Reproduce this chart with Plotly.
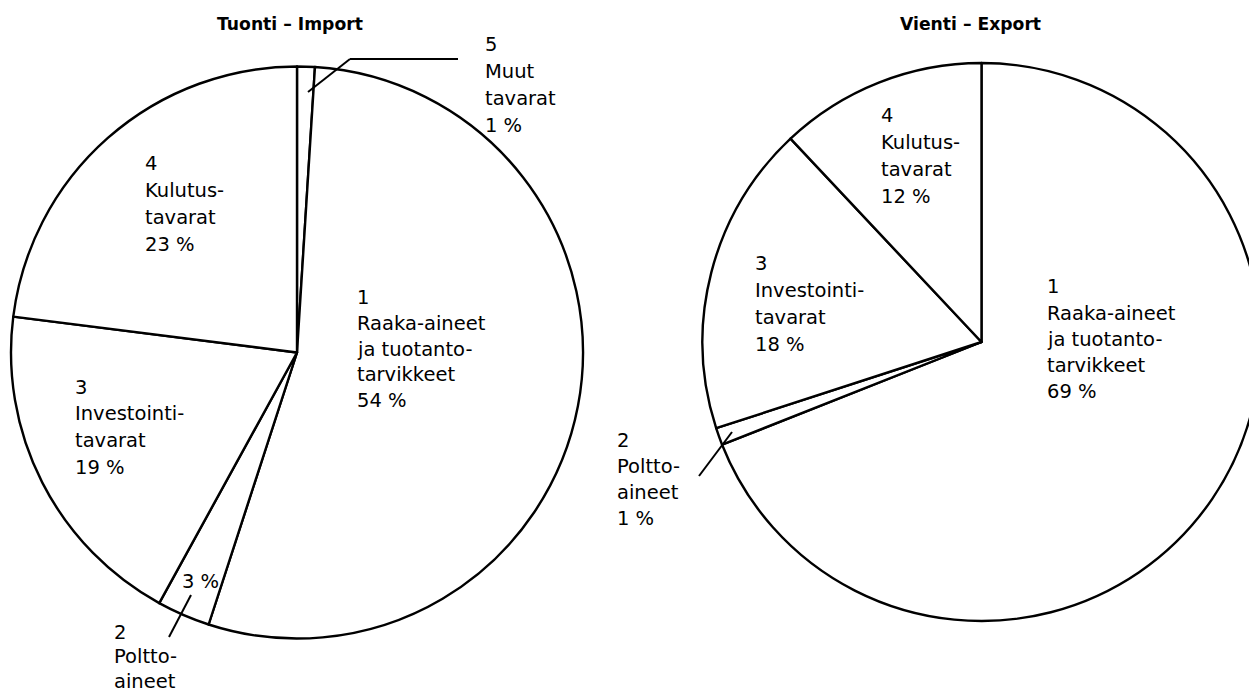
import plotly.graph_objects as go

W, H = 1257, 692
OFF = 8  # default page body margin in the browser

# ---- data ----
import_categories = ["Muut tavarat", "Raaka-aineet ja tuotantotarvikkeet", "Polttoaineet",
                     "Investointitavarat", "Kulutustavarat"]
import_values = [1, 54, 3, 19, 23]
export_categories = ["Raaka-aineet ja tuotantotarvikkeet", "Polttoaineet",
                     "Investointitavarat", "Kulutustavarat"]
export_values = [69, 1, 18, 12]

# label text pieces (group number + hyphenated name lines)
import_label_lines = {
    "Raaka-aineet ja tuotantotarvikkeet": ["1", "Raaka-aineet", "ja tuotanto-", "tarvikkeet"],
    "Kulutustavarat": ["4", "Kulutus-", "tavarat"],
    "Investointitavarat": ["3", "Investointi-", "tavarat"],
    "Muut tavarat": ["5", "Muut", "tavarat"],
    "Polttoaineet": ["2", "Poltto-", "aineet"],
}
export_label_lines = {
    "Raaka-aineet ja tuotantotarvikkeet": ["1", "Raaka-aineet", "ja tuotanto-", "tarvikkeet"],
    "Kulutustavarat": ["4", "Kulutus-", "tavarat"],
    "Investointitavarat": ["3", "Investointi-", "tavarat"],
    "Polttoaineet": ["2", "Poltto-", "aineet"],
}
titles = ["Tuonti – Import", "Vienti – Export"]


def px(x):
    return (x - OFF) / W


def py(y):
    return 1 - (y - OFF) / H


fig = go.Figure()

line_style = dict(color="black", width=2.4)

fig.add_trace(go.Pie(
    labels=import_categories, values=import_values, sort=False,
    direction="clockwise", rotation=0, textinfo="none", hoverinfo="label+percent",
    marker=dict(colors=["white"] * len(import_values), line=line_style),
    domain=dict(x=[px(11), px(583)], y=[py(638.5), py(66.5)]),
    showlegend=False,
))
fig.add_trace(go.Pie(
    labels=export_categories, values=export_values, sort=False,
    direction="clockwise", rotation=0, textinfo="none", hoverinfo="label+percent",
    marker=dict(colors=["white"] * len(export_values), line=line_style),
    domain=dict(x=[px(702.5), min(1.0, px(1260.5))], y=[py(621), py(63)]),
    showlegend=False,
))

FONT = dict(family="DejaVu Sans", size=19.5, color="black")
annotations = []


def block(lines, x, y0, dy):
    for i, t in enumerate(lines):
        annotations.append(dict(
            x=px(x), y=py(y0 + i * dy), xref="paper", yref="paper",
            text=t, showarrow=False, xanchor="left", yanchor="middle", font=FONT))


imp = dict(zip(import_categories, import_values))
exp = dict(zip(export_categories, export_values))
pct = lambda v: f"{v} %"

# import labels
k = "Raaka-aineet ja tuotantotarvikkeet"
block(import_label_lines[k] + [pct(imp[k])], 355, 298, 25.5)
k = "Kulutustavarat"
block(import_label_lines[k] + [pct(imp[k])], 143, 163, 27)
k = "Investointitavarat"
block(import_label_lines[k] + [pct(imp[k])], 73, 387, 26.7)
k = "Muut tavarat"
block(import_label_lines[k] + [pct(imp[k])], 483, 45, 26.7)
k = "Polttoaineet"
block([pct(imp[k])], 180, 581, 26)
block(import_label_lines[k], 112, 632, 24.5)

# export labels
k = "Raaka-aineet ja tuotantotarvikkeet"
block(export_label_lines[k] + [pct(exp[k])], 1045, 287, 26)
k = "Investointitavarat"
block(export_label_lines[k] + [pct(exp[k])], 753, 263, 27)
k = "Kulutustavarat"
block(export_label_lines[k] + [pct(exp[k])], 879, 115, 27)
k = "Polttoaineet"
block(export_label_lines[k] + [pct(exp[k])], 615, 440, 26)

# titles
for t, cx in zip(titles, [290, 970]):
    annotations.append(dict(
        x=px(cx), y=py(24), xref="paper", yref="paper", text=f"<b>{t}</b>",
        showarrow=False, xanchor="center", yanchor="middle",
        font=dict(family="DejaVu Sans", size=17.2, color="black")))

# leader lines
shapes = []
leaders = [
    [(308, 92), (350, 59), (458, 59)],
    [(191, 595), (169, 637)],
    [(732, 432), (699, 476)],
]
for pts in leaders:
    for (x0, y0), (x1, y1) in zip(pts[:-1], pts[1:]):
        shapes.append(dict(type="line", xref="paper", yref="paper",
                           x0=px(x0), y0=py(y0), x1=px(x1), y1=py(y1),
                           line=dict(color="black", width=2)))

fig.update_layout(
    width=W, height=H, margin=dict(l=0, r=0, t=0, b=0),
    paper_bgcolor="white", plot_bgcolor="white",
    annotations=annotations, shapes=shapes,
)

fig.write_html("out.html")
